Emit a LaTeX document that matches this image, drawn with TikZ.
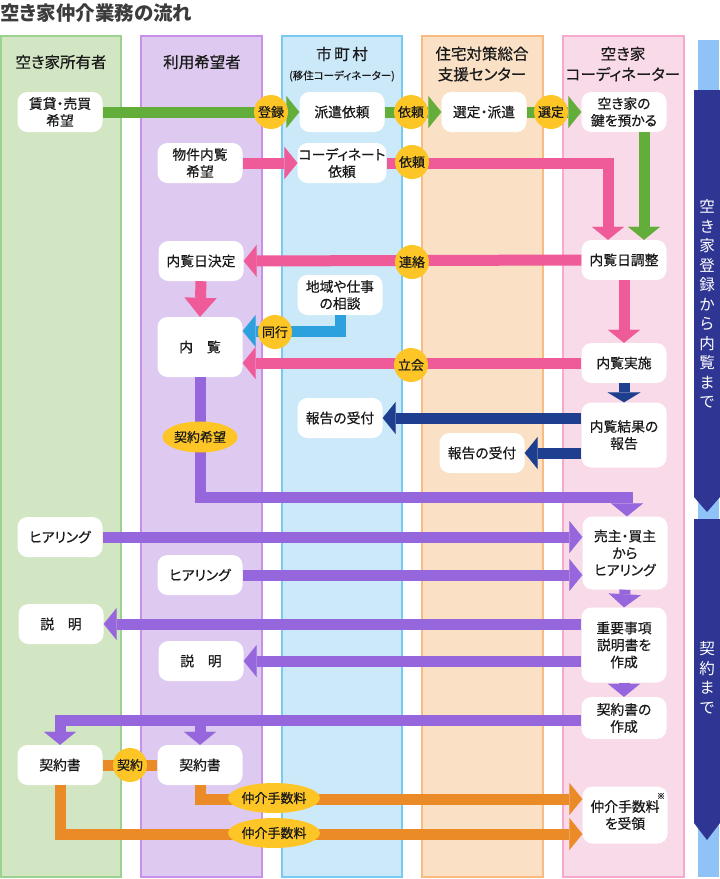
\documentclass[tikz,border=0pt]{standalone}
\usepackage{fontspec}
\setmainfont{Noto Sans CJK JP}[RawFeature=+palt]
\newfontfamily\jmed{Noto Sans CJK JP}[RawFeature=+palt, FakeBold=0.5]
\usetikzlibrary{arrows.meta,calc,shapes.geometric}
\definecolor{colAf}{HTML}{D3E6C4}\definecolor{colAd}{HTML}{9CD28F}
\definecolor{colBf}{HTML}{DECAF0}\definecolor{colBd}{HTML}{C890EA}
\definecolor{colCf}{HTML}{CCE9F9}\definecolor{colCd}{HTML}{78CAF4}
\definecolor{colDf}{HTML}{FAE0C5}\definecolor{colDd}{HTML}{F9BB7F}
\definecolor{colEf}{HTML}{F9DAE8}\definecolor{colEd}{HTML}{F6A9CA}
\definecolor{cGreen}{HTML}{63AE3A}
\definecolor{cPink}{HTML}{EF5A99}
\definecolor{cCyan}{HTML}{2CA1DD}
\definecolor{cNavy}{HTML}{1E3F90}
\definecolor{cPurple}{HTML}{9566DC}
\definecolor{cOrange}{HTML}{EA8B28}
\definecolor{cYel}{HTML}{FDC526}
\definecolor{cBar}{HTML}{2E3592}
\definecolor{cBarL}{HTML}{8FC3F8}
\definecolor{cText}{HTML}{1A1A1A}
\newcommand\jfs[2][17]{\jmed\fontsize{#2}{#1}\selectfont}
\newcommand\jrs[2][17]{\fontsize{#2}{#1}\selectfont}
\tikzset{
  box/.style={fill=white, rounded corners=10pt, minimum width=85pt, minimum height=40pt,
    inner sep=1pt, align=center, text=cText, font=\jfs{13.8}},
  lbl/.style={circle, fill=cYel, minimum size=34pt, inner sep=0pt, text=cText, font=\jfs{13}},
  ell/.style={ellipse, fill=cYel, minimum width=78pt, minimum height=31pt, inner sep=0pt, text=cText, font=\jfs{13}},
  hdr/.style={align=center, text=cText, font=\jfs[20.5]{15.5}},
  flow/.style={line width=11pt, -{Triangle[width=32pt,length=13pt,line width=0.01pt]}},
  flowline/.style={line width=11pt},
  lane/.style={line width=1.5pt},
  bartext/.style={align=center, text=white, font=\jrs[19.5]{15.5}}
}
\begin{document}
\begin{tikzpicture}[x=1pt,y=-1pt,line join=miter]
\useasboundingbox (0,0) rectangle (720,879);
% title
\node[anchor=west, text=cText!85, font=\fontsize{19.5}{22}\selectfont\bfseries, inner sep=0pt] (title) at (0,13) {空き家仲介業務の流れ};
% lanes
\path[lane, fill=colAf, draw=colAd] (1,36) rectangle (121,877);
\path[lane, fill=colBf, draw=colBd] (141,36) rectangle (262,877);
\path[lane, fill=colCf, draw=colCd] (282,36) rectangle (402,877);
\path[lane, fill=colDf, draw=colDd] (422,36) rectangle (543,877);
\path[lane, fill=colEf, draw=colEd] (563,36) rectangle (684,877);
% right bar
\fill[cBarL] (698,40) rectangle (719,877);
\fill[cBar] (694,90) -- (720,90) -- (720,497) -- (707,512) -- (694,497) -- cycle;
\fill[cBar] (694,519) -- (720,519) -- (720,823) -- (707,840) -- (694,823) -- cycle;
\node[bartext] (barA) at (707,304) {空\\き\\家\\登\\録\\か\\ら\\内\\覧\\ま\\で};
\node[bartext] (barB) at (707,678) {契\\約\\ま\\で};
% headers
\node[hdr] (hA) at (61,62) {空き家所有者};
\node[hdr] (hB) at (202,62) {利用希望者};
\node[hdr] (hC) at (342,54) {市\,町\,村};
\node[align=center, text=cText, font=\jfs{10.5}] (hCs) at (342,76) {(移住コーディネーター)};
\node[hdr] (hD) at (482,64) {住宅対策総合\\支援センター};
\node[hdr] (hE) at (623,64) {空き家\\コーディネーター};
% boxes
\node[box] (own) at (60,112) {賃貸・売買\\希望};
\node[box] (haken) at (342,112) {派遣依頼};
\node[box] (sentei) at (484,112) {選定・派遣};
\node[box] (kagi) at (624,112) {空き家の\\鍵を預かる};
\node[box] (bukken) at (200,163) {物件内覧\\希望};
\node[box] (codreq) at (342,163) {コーディネート\\依頼};
\node[box] (kettei) at (201,261) {内覧日決定};
\node[box] (chosei) at (624,260) {内覧日調整};
\node[box] (soudan) at (340,295) {地域や仕事\\の相談};
\node[box, minimum height=60pt] (nairan) at (200,347) {内　覧};
\node[box] (jisshi) at (624,363) {内覧実施};
\node[box] (hok1) at (340,418) {報告の受付};
\node[box, minimum height=65pt] (kekka) at (624,435) {内覧結果の\\報告};
\node[box] (hok2) at (482,453) {報告の受付};
\node[box] (hear1) at (60,537) {ヒアリング};
\node[box, minimum height=73pt] (uri) at (625,553) {売主・買主\\から\\ヒアリング};
\node[box] (hear2) at (200,575) {ヒアリング};
\node[box] (setsu1) at (61,624) {説　明};
\node[box, minimum height=75pt] (juyo) at (624,645) {重要事項\\説明書を\\作成};
\node[box] (setsu2) at (201,661) {説　明};
\node[box, minimum height=42pt] (keisaku) at (624,718) {契約書の\\作成};
\node[box] (kei1) at (60,765) {契約書};
\node[box] (kei2) at (200,765) {契約書};
\node[box, minimum height=57pt] (ryo) at (625,815) {仲介手数料\\を受領};
\node[text=cText, font=\jfs{8}, inner sep=0pt] (note) at (661,796) {※};
% green flow
\draw[flow, cGreen] (own.east) -- (haken.west);
\draw[flow, cGreen] (haken.east) -- (sentei.west);
\draw[flow, cGreen] (sentei.east) -- (kagi.west);
\draw[flow, cGreen] ($(kagi.south)+(20,0)$) -- ($(chosei.north)+(20,0)$);
% pink flow
\draw[flow, cPink] (bukken.east) -- (codreq.west);
\draw[flow, cPink] (codreq.east) -| ($(chosei.north)+(-16,0)$);
\draw[flow, cPink] (chosei.west) -- (kettei.east);
\draw[line width=11pt, cPink, -{Triangle[width=32pt,length=19pt,line width=0.01pt]}] (kettei.south) -- (nairan.north);
\draw[flow, cPink] (chosei.south) -- (jisshi.north);
\draw[flow, cPink] (jisshi.west) -- (nairan.east |- jisshi.west);
% cyan
\draw[flow, cCyan] (soudan.south) |- ($(nairan.east)+(0,-16)$);
% navy
\draw[line width=11pt, cNavy, -{Triangle[width=33pt,length=10pt,line width=0.01pt]}] (jisshi.south) -- (kekka.north);
\draw[flow, cNavy] (kekka.west |- hok1.east) -- (hok1.east);
\draw[flow, cNavy] (kekka.west |- hok2.east) -- (hok2.east);
% purple
\coordinate (k1) at (400,497);
\draw[flow, cPurple] (nairan.south) |- (k1) -| ($(uri.north)+(2,0)$);
\draw[flow, cPurple] (hear1.east) -- (uri.west |- hear1.east);
\draw[flow, cPurple] (hear2.east) -- (uri.west |- hear2.east);
\draw[flow, cPurple] (uri.south) -- (juyo.north);
\draw[flow, cPurple] (juyo.west |- setsu1.east) -- (setsu1.east);
\draw[flow, cPurple] (juyo.west |- setsu2.east) -- (setsu2.east);
\draw[flow, cPurple] (juyo.south) -- (keisaku.north);
\draw[flow, cPurple] ($(keisaku.west)+(0,2)$) -| (kei1.north);
\draw[flow, cPurple] ($(kei2.north)+(0,-23)$) -- (kei2.north);
% orange
\draw[flowline, cOrange] (kei1.east) -- (kei2.west);
\draw[flow, cOrange] (kei2.south) |- ($(ryo.west)+(0,-16)$);
\draw[flow, cOrange] (kei1.south) |- ($(ryo.west)+(0,19)$);
% labels
\node[lbl] (l1) at (271,112) {登録};
\node[lbl] (l2) at (411,112) {依頼};
\node[lbl] (l3) at (551,112) {選定};
\node[lbl] (l4) at (412,162) {依頼};
\node[lbl] (l5) at (412,262) {連絡};
\node[lbl] (l6) at (275,332) {同行};
\node[lbl] (l7) at (411,365) {立会};
\node[ell, minimum width=75pt] (l8) at (200,437) {契約希望};
\node[lbl] (l9) at (130,765) {契約};
\node[ell, minimum width=82pt, minimum height=30pt] (l10) at (274,798) {仲介手数料};
\node[ell, minimum width=82pt, minimum height=30pt] (l11) at (274,833) {仲介手数料};
\end{tikzpicture}
\end{document}
